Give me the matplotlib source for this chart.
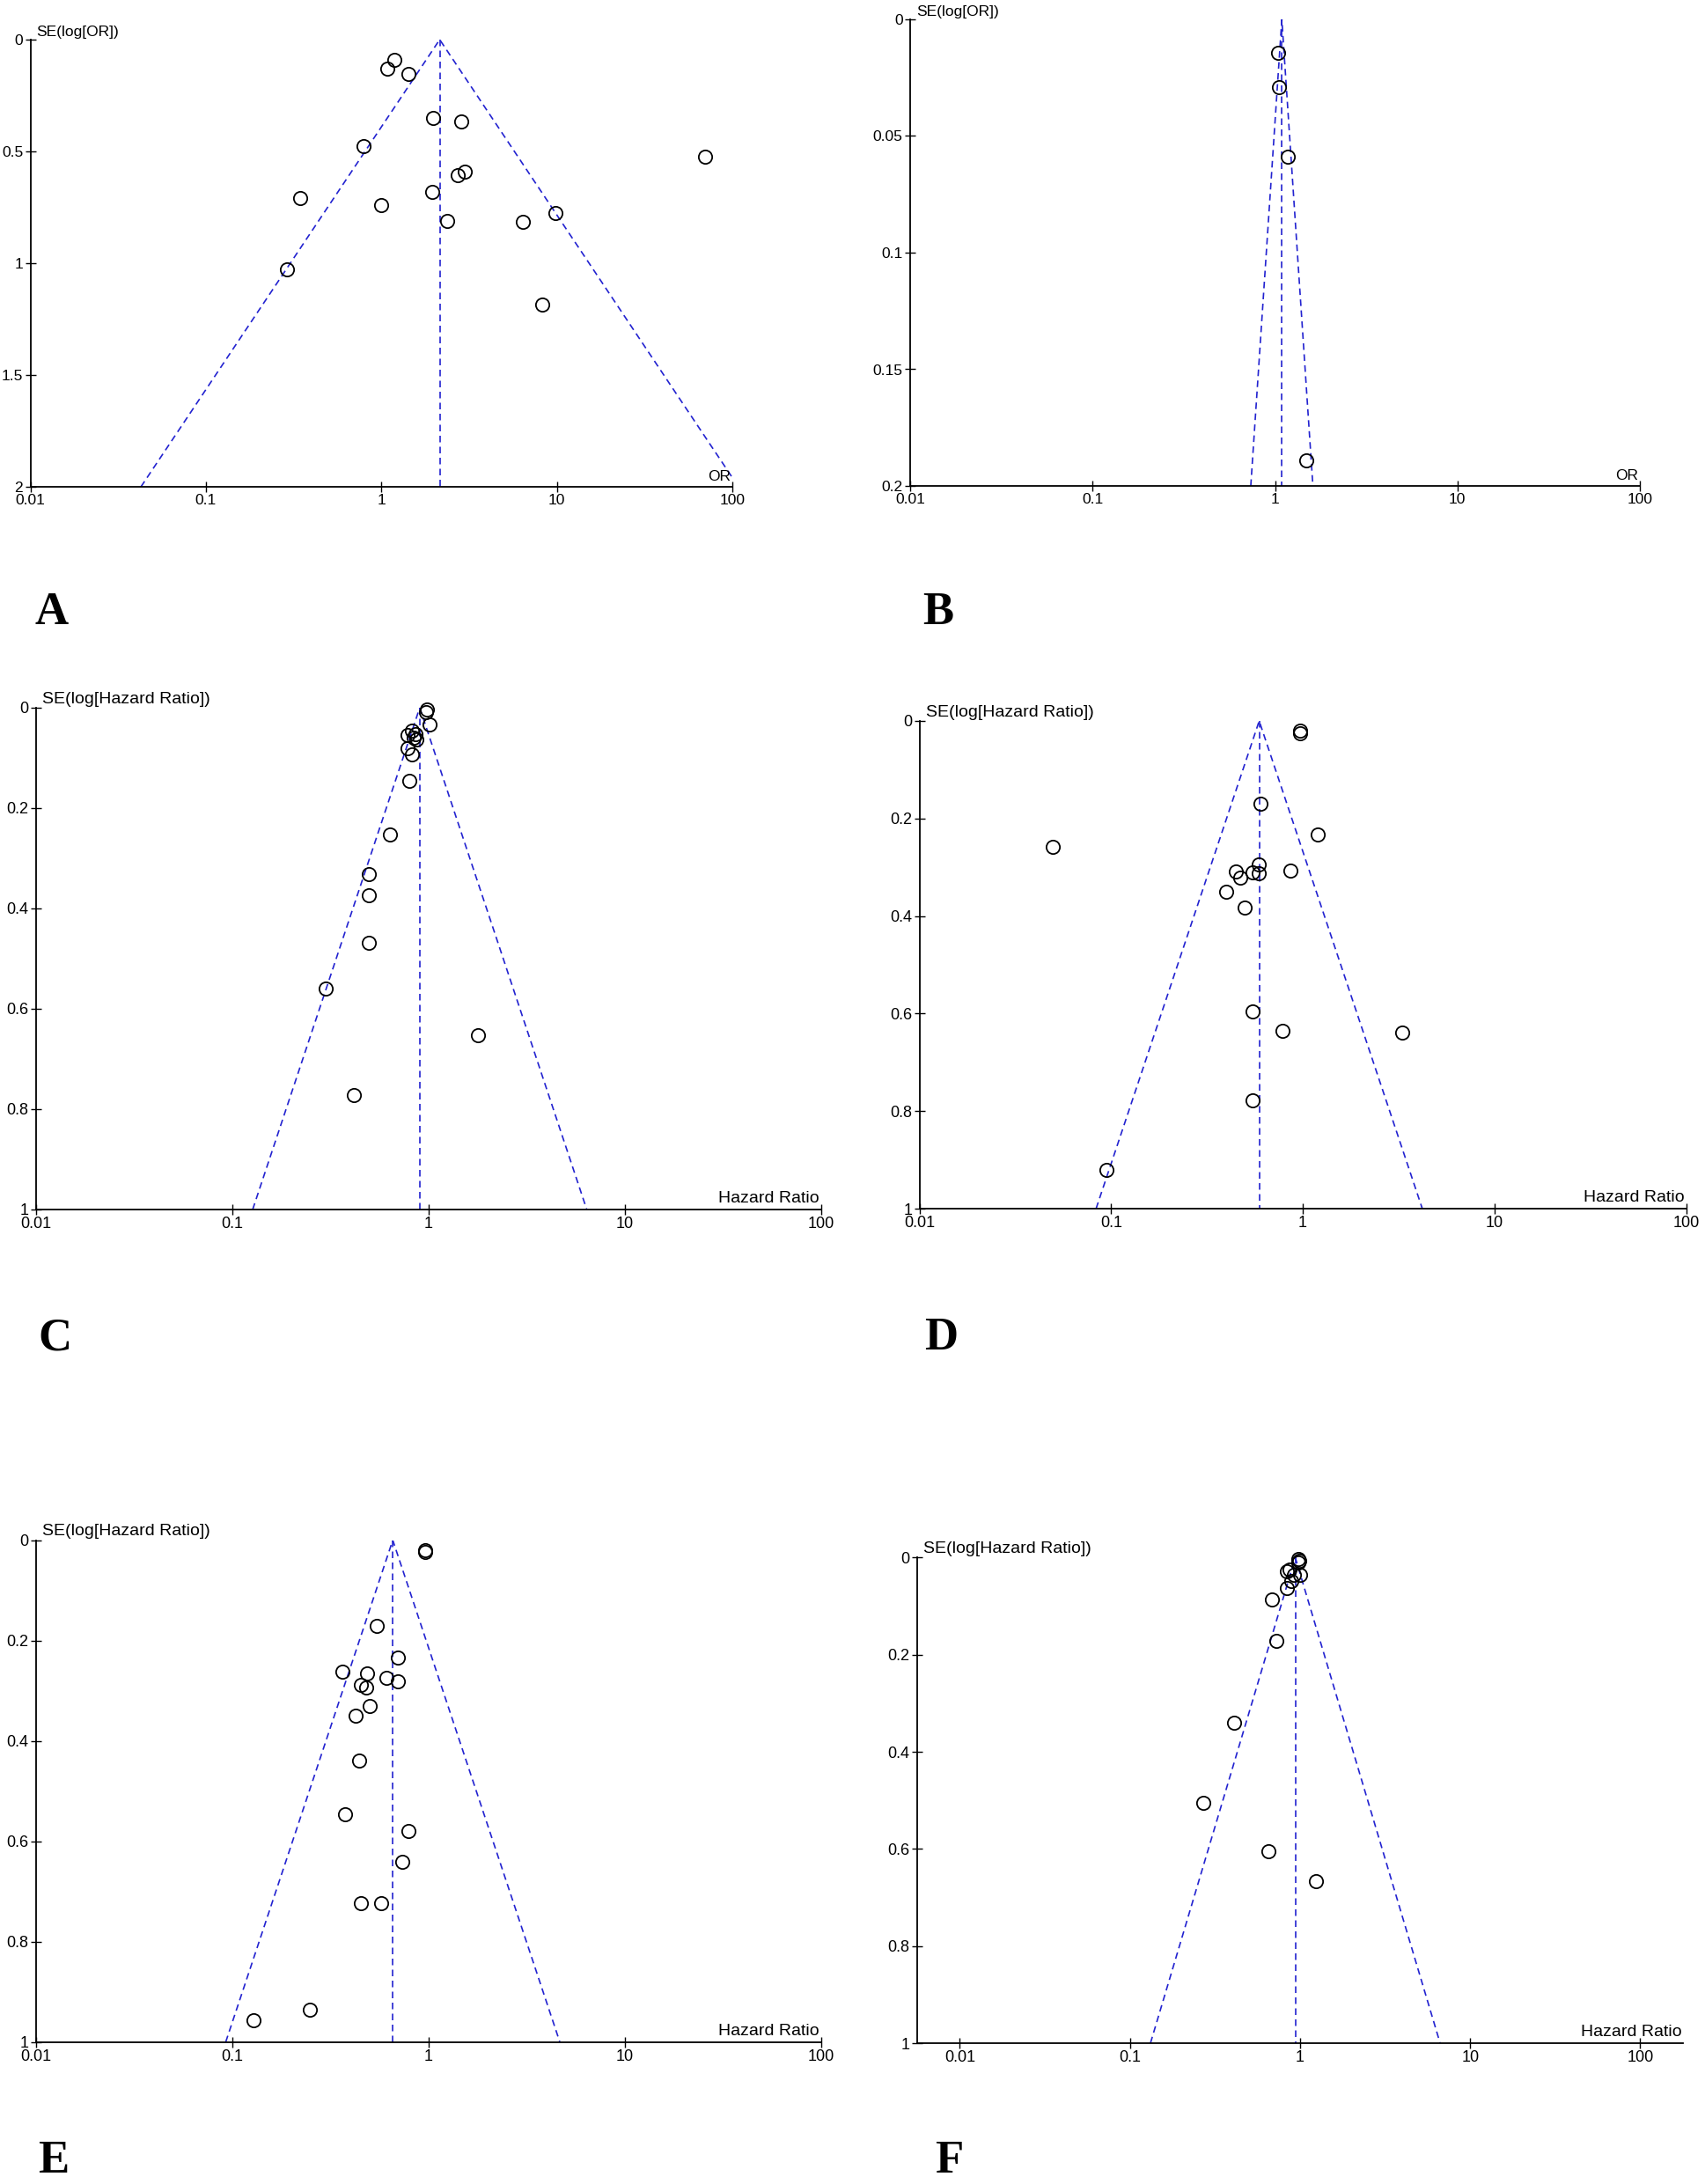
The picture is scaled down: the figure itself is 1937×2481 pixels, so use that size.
import numpy as np
import matplotlib
matplotlib.use("Agg")
import matplotlib.pyplot as plt
from matplotlib.ticker import FixedLocator, FuncFormatter, NullLocator

plt.rcParams['font.family'] = ['Liberation Sans', 'DejaVu Sans']

# ---- data ----
A_or = [1.19, 1.08, 1.43, 1.97, 2.84, 0.79, 69.7, 2.99, 2.73, 0.345, 1.94, 1.00, 9.77, 2.36, 6.42, 0.29, 8.27]
A_se = [0.090, 0.129, 0.152, 0.351, 0.367, 0.477, 0.522, 0.590, 0.606, 0.709, 0.680, 0.742, 0.777, 0.811, 0.816, 1.028, 1.187]
A_pooled = 2.15

B_or = [1.04, 1.05, 1.17, 1.48]
B_se = [0.0145, 0.029, 0.0589, 0.189]
B_pooled = 1.09

C_hr = [0.98, 0.97, 1.017, 0.785, 0.827, 0.857, 0.842, 0.871, 0.785, 0.827, 0.80, 0.635, 0.496, 0.496, 0.496, 0.30, 1.79, 0.418]
C_se = [0.004, 0.009, 0.033, 0.054, 0.045, 0.053, 0.060, 0.063, 0.080, 0.093, 0.145, 0.252, 0.331, 0.374, 0.468, 0.559, 0.652, 0.772]
C_pooled = 0.904

D_hr = [0.963, 0.963, 0.600, 1.20, 0.0498, 0.588, 0.446, 0.545, 0.588, 0.865, 0.472, 0.398, 0.496, 0.545, 0.787, 3.30, 0.545, 0.0948]
D_se = [0.019, 0.025, 0.169, 0.232, 0.258, 0.294, 0.308, 0.310, 0.313, 0.306, 0.321, 0.351, 0.383, 0.596, 0.636, 0.639, 0.778, 0.920]
D_pooled = 0.592

E_hr = [0.963, 0.963, 0.545, 0.702, 0.366, 0.487, 0.611, 0.702, 0.454, 0.481, 0.503, 0.424, 0.446, 0.378, 0.792, 0.734, 0.454, 0.574, 0.248, 0.129]
E_se = [0.020, 0.024, 0.171, 0.234, 0.262, 0.266, 0.274, 0.282, 0.289, 0.293, 0.331, 0.350, 0.439, 0.547, 0.579, 0.641, 0.724, 0.724, 0.936, 0.956]
E_pooled = 0.659

F_hr = [0.98, 0.99, 0.975, 0.868, 0.84, 0.925, 1.0, 0.893, 0.84, 0.687, 0.727, 0.409, 0.271, 0.649, 1.246]
F_se = [0.002, 0.006, 0.010, 0.024, 0.029, 0.036, 0.036, 0.048, 0.063, 0.086, 0.172, 0.340, 0.505, 0.605, 0.666]
F_pooled = 0.938

x_ticks = [0.01, 0.1, 1, 10, 100]
x_ticklabels = ['0.01', '0.1', '1', '10', '100']
yticks_or = [0, 0.5, 1, 1.5, 2]
yticks_b = [0, 0.05, 0.1, 0.15, 0.2]
yticks_hr = [0, 0.2, 0.4, 0.6, 0.8, 1]

W, H = 1937, 2481
fig = plt.figure(figsize=(W / 100, H / 100), dpi=100)
fig.patch.set_facecolor('white')

BLUE = '#2222d0'


def px_axes(left, top, right, bottom):
    # pixel box -> figure fraction
    return fig.add_axes([left / W, 1 - bottom / H, (right - left) / W, (bottom - top) / H])


def funnel(ax, x, se, pooled, ymax, yticks, xlabel, ylabel, xlim=(0.01, 100), fs_tick=13, fs_lab=14):
    ax.set_xscale('log')
    ax.set_xlim(*xlim)
    ax.set_ylim(ymax, 0)

    # funnel lines (95% limits) and pooled estimate
    lo = pooled * np.exp(-1.96 * ymax)
    hi = pooled * np.exp(1.96 * ymax)
    ax.plot([lo, pooled, hi], [ymax, 0, ymax], color=BLUE, lw=1.2, ls=(0, (4.5, 3)), zorder=2)
    ax.plot([pooled, pooled], [0, ymax], color=BLUE, lw=1.2, ls=(0, (4.5, 3)), zorder=2)

    ax.plot(x, se, 'o', ms=11, mfc='none', mec='black', mew=1.3, zorder=3, clip_on=False)

    for s in ['top', 'right']:
        ax.spines[s].set_visible(False)
    for s in ['left', 'bottom']:
        ax.spines[s].set_linewidth(1.3)

    ax.xaxis.set_major_locator(FixedLocator(x_ticks))
    ax.xaxis.set_minor_locator(NullLocator())
    ax.set_xticklabels(x_ticklabels)
    ax.set_yticks(yticks)
    ax.yaxis.set_major_formatter(FuncFormatter(lambda v, p: '%g' % v))
    ax.tick_params(direction='inout', length=8, width=1.0, labelsize=fs_tick, pad=2)

    ax.annotate(ylabel, xy=(0, 1), xycoords='axes fraction', xytext=(5, 1),
                textcoords='offset points', ha='left', va='bottom', fontsize=fs_lab)
    ax.annotate(xlabel, xy=(1, 0), xycoords='axes fraction', xytext=(-1, 3),
                textcoords='offset points', ha='right', va='bottom', fontsize=fs_lab)


axA = px_axes(34.5, 45, 832, 553)
funnel(axA, A_or, A_se, A_pooled, 2, yticks_or, 'OR', 'SE(log[OR])', fs_tick=12.5, fs_lab=12.5)

axB = px_axes(1034, 22, 1863, 552)
funnel(axB, B_or, B_se, B_pooled, 0.2, yticks_b, 'OR', 'SE(log[OR])', fs_tick=12.5, fs_lab=12.5)

axC = px_axes(40.7, 804, 932.5, 1374)
funnel(axC, C_hr, C_se, C_pooled, 1, yticks_hr, 'Hazard Ratio', 'SE(log[Hazard Ratio])')

axD = px_axes(1044.7, 819, 1915.5, 1373)
funnel(axD, D_hr, D_se, D_pooled, 1, yticks_hr, 'Hazard Ratio', 'SE(log[Hazard Ratio])')

axE = px_axes(40.7, 1749.6, 932.5, 2319.7)
funnel(axE, E_hr, E_se, E_pooled, 1, yticks_hr, 'Hazard Ratio', 'SE(log[Hazard Ratio])')

axF = px_axes(1042, 1769.4, 1911.8, 2321)
funnel(axF, F_hr, F_se, F_pooled, 1, yticks_hr, 'Hazard Ratio', 'SE(log[Hazard Ratio])',
       xlim=(10 ** -2.25, 10 ** 2.25))

# panel letters
letters = [('A', 40, 709, 'baseline'), ('B', 1048, 709, 'baseline'),
           ('C', 43, 1533, 'baseline'), ('D', 1050, 1533, 'baseline'),
           ('E', 43, 2479, 'bottom'), ('F', 1062, 2479, 'bottom')]
for letter, lx, ly, va in letters:
    fig.text(lx / W, 1 - ly / H, letter, fontsize=38, fontweight='bold',
             family=['Liberation Serif', 'DejaVu Serif'], ha='left', va=va)

fig.savefig('out.png', dpi=100, facecolor='white')
